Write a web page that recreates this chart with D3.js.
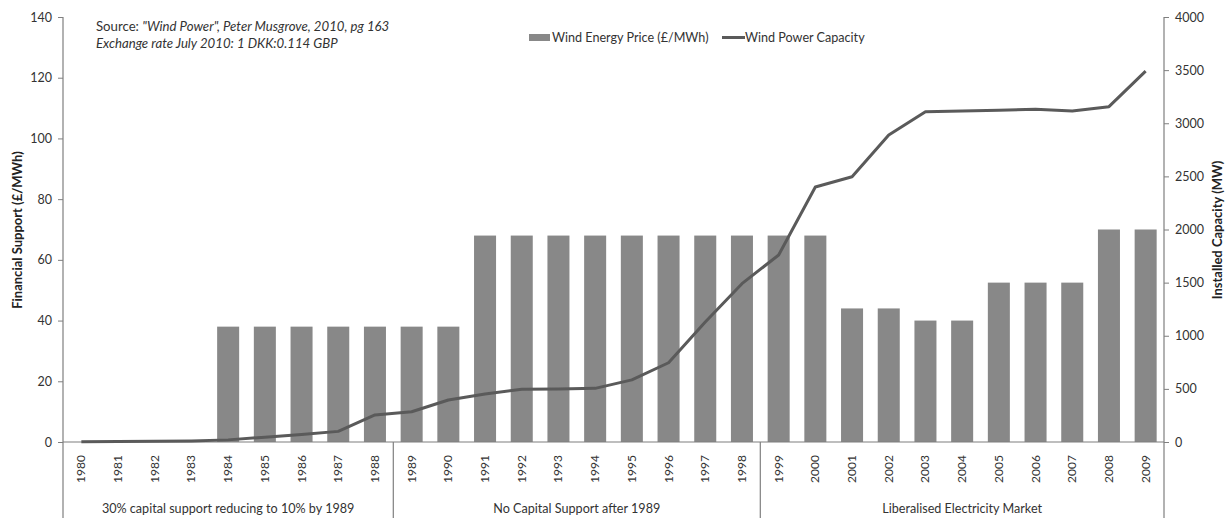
<!DOCTYPE html>
<html>
<head>
<meta charset="utf-8">
<script src="https://cdn.jsdelivr.net/npm/d3@7"></script>
<style>
  html, body { margin: 0; padding: 0; background: #fff; }
  svg { display: block; font-family: Lato, "Open Sans", sans-serif; }
</style>
</head>
<body>
<svg id="chart" width="1231" height="518"></svg>
<script>
const years = ["1980","1981","1982","1983","1984","1985","1986","1987","1988","1989",
  "1990","1991","1992","1993","1994","1995","1996","1997","1998","1999",
  "2000","2001","2002","2003","2004","2005","2006","2007","2008","2009"];
const price = [0,0,0,0,38,38,38,38,38,38,
  38,68,68,68,68,68,68,68,68,68,
  68,44,44,40,40,52.5,52.5,52.5,70,70];
const capacity = [3,5,7,10,20,45,70,100,255,285,
  395,452,496,498,505,585,746,1130,1490,1760,
  2400,2497,2889,3109,3115,3122,3131,3115,3156,3490];
const leftTicks = [0,20,40,60,80,100,120,140];
const rightTicks = [0,500,1000,1500,2000,2500,3000,3500,4000];
const groups = [
  {label: "30% capital support reducing to 10% by 1989", from: "1980", to: "1988"},
  {label: "No Capital Support after 1989", from: "1989", to: "1998"},
  {label: "Liberalised Electricity Market", from: "1999", to: "2009"}
];
const seriesNames = ["Wind Energy Price (£/MWh)", "Wind Power Capacity"];

(function () {
const svg = d3.select("#chart");
const mLeft = 63, mRight = 1164, mTop = 17, mBottom = 442, bottomEdge = 518;
const axisColor = "#7f7f7f", textColor = "#333";
const barColor = "#888888", lineColor = "#5a5a5a";

const x = d3.scaleBand().domain(years).range([mLeft, mRight]).paddingInner(0.4).paddingOuter(0.2);
const xb = d3.scaleBand().domain(years).range([mLeft, mRight]);
const yL = d3.scaleLinear().domain([0, 140]).range([mBottom, mTop]);
const yR = d3.scaleLinear().domain([0, 4000]).range([mBottom, mTop]);

// bars
svg.append("g").selectAll("rect").data(years).join("rect")
  .attr("x", d => x(d))
  .attr("width", x.bandwidth())
  .attr("y", (d, i) => yL(price[i]))
  .attr("height", (d, i) => yL(0) - yL(price[i]))
  .attr("fill", barColor);

// left axis
const gL = svg.append("g").attr("transform", `translate(${mLeft},0)`)
  .call(d3.axisLeft(yL).tickValues(leftTicks).tickSize(5).tickPadding(6));
gL.select(".domain").remove();
gL.selectAll("line").attr("stroke", axisColor);
gL.selectAll("text").attr("fill", textColor).style("font-size", "12.5px").style("font-family", "Lato, sans-serif");

// right axis
const gR = svg.append("g").attr("transform", `translate(${mRight},0)`)
  .call(d3.axisRight(yR).tickValues(rightTicks).tickFormat(d3.format("d")).tickSize(5).tickPadding(6));
gR.select(".domain").remove();
gR.selectAll("line").attr("stroke", axisColor);
gR.selectAll("text").attr("fill", textColor).style("font-size", "12.5px").style("font-family", "Lato, sans-serif");

// axis lines (extend down through category area)
svg.append("line").attr("x1", mLeft).attr("x2", mLeft).attr("y1", mTop).attr("y2", bottomEdge)
  .attr("stroke", axisColor).attr("stroke-width", 1.2);
svg.append("line").attr("x1", mRight).attr("x2", mRight).attr("y1", mTop).attr("y2", bottomEdge)
  .attr("stroke", axisColor).attr("stroke-width", 1.2);
svg.append("line").attr("x1", mLeft).attr("x2", mRight).attr("y1", mBottom).attr("y2", mBottom)
  .attr("stroke", axisColor).attr("stroke-width", 1.2);

// group dividers
groups.slice(1).forEach(g => {
  const xx = xb(g.from);
  svg.append("line").attr("x1", xx).attr("x2", xx).attr("y1", mBottom).attr("y2", bottomEdge)
    .attr("stroke", axisColor).attr("stroke-width", 1.2);
});

// year labels
svg.append("g").selectAll("text").data(years).join("text")
  .attr("transform", d => `translate(${xb(d) + xb.bandwidth() / 2 + 4},469) rotate(-90)`)
  .attr("text-anchor", "middle")
  .attr("fill", textColor)
  .style("font-size", "12px")
  .text(d => d);

// group labels
svg.append("g").selectAll("text").data(groups).join("text")
  .attr("x", d => (xb(d.from) + xb(d.to) + xb.bandwidth()) / 2)
  .attr("y", 513)
  .attr("text-anchor", "middle")
  .attr("fill", textColor)
  .style("font-size", "12.6px")
  .text(d => d.label);

// line
const line = d3.line().x((d, i) => xb(years[i]) + xb.bandwidth() / 2).y(d => yR(d));
svg.append("path").datum(capacity).attr("d", line)
  .attr("fill", "none").attr("stroke", lineColor).attr("stroke-width", 3)
  .attr("stroke-linejoin", "round");

// axis titles
svg.append("text").attr("transform", "translate(22,230) rotate(-90)")
  .attr("text-anchor", "middle").attr("fill", "#222").style("font-size", "13px").style("font-weight", "bold")
  .text("Financial Support (£/MWh)");
svg.append("text").attr("transform", "translate(1222,230) rotate(-90)")
  .attr("text-anchor", "middle").attr("fill", "#222").style("font-size", "13px").style("font-weight", "bold")
  .text("Installed Capacity (MW)");

// source note
const note = svg.append("text").attr("x", 96).attr("y", 31).attr("fill", textColor).style("font-size", "13.2px");
note.append("tspan").text("Source: ");
note.append("tspan").style("font-style", "italic").text("\"Wind Power\", Peter Musgrove, 2010, pg 163");
svg.append("text").attr("x", 96).attr("y", 48).attr("fill", textColor).style("font-size", "13.2px")
  .style("font-style", "italic").text("Exchange rate July 2010: 1 DKK:0.114 GBP");

// legend
const lg = svg.append("g");
lg.append("rect").attr("x", 529).attr("y", 34).attr("width", 21).attr("height", 7).attr("fill", barColor);
lg.append("text").attr("x", 552).attr("y", 41.5).attr("fill", textColor).style("font-size", "12.6px").text(seriesNames[0]);
lg.append("line").attr("x1", 722).attr("x2", 745).attr("y1", 37.5).attr("y2", 37.5)
  .attr("stroke", lineColor).attr("stroke-width", 3);
lg.append("text").attr("x", 745).attr("y", 41.5).attr("fill", textColor).style("font-size", "12.6px").text(seriesNames[1]);
})();
</script>
</body>
</html>
